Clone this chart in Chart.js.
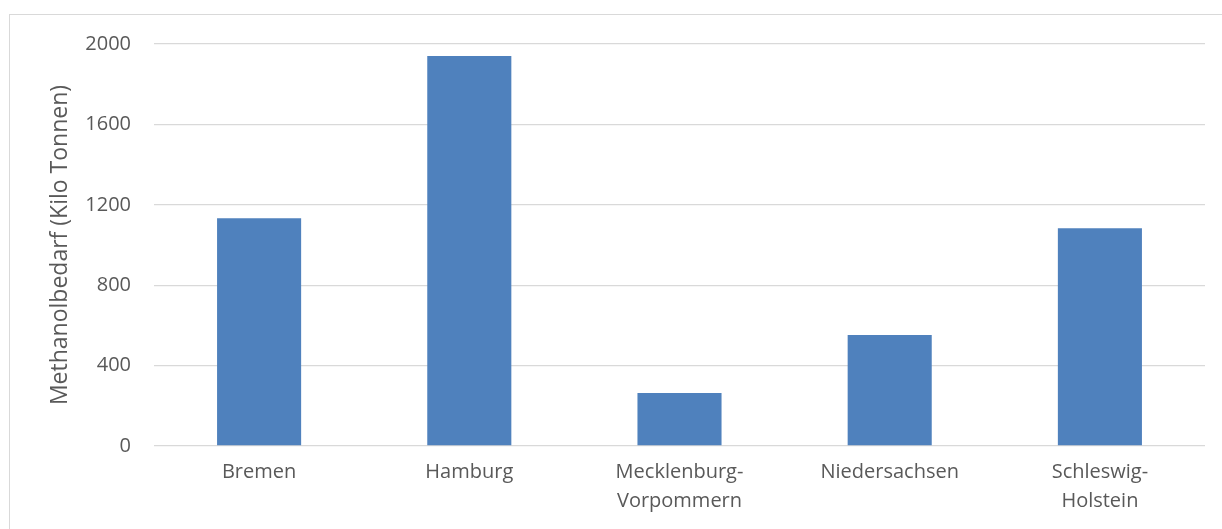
<!DOCTYPE html>
<html>
<head>
<meta charset="utf-8">
<script src="https://cdn.jsdelivr.net/npm/chart.js@4/dist/chart.umd.min.js"></script>
<style>
  html, body { margin: 0; padding: 0; background: #ffffff; overflow: hidden; }
  #frame { position: absolute; left: 9px; top: 14px; width: 1240px; height: 560px; border: 1.5px solid #d9d9d9; box-sizing: border-box; }
  #wrap { position: absolute; left: 0; top: 0; width: 1222px; height: 529px; }
</style>
</head>
<body>
<div id="frame"></div>
<div id="wrap"><canvas id="c" width="1222" height="529"></canvas></div>
<script>
const categories = ["Bremen", "Hamburg", ["Mecklenburg-", "Vorpommern"], "Niedersachsen", ["Schleswig-", "Holstein"]];
const values = [1133, 1940, 264, 552, 1083];
const yTicks = [0, 400, 800, 1200, 1600, 2000];
const yTitle = "Methanolbedarf (Kilo Tonnen)";

const textColor = "#595959";
const fontFamily = "'Open Sans', sans-serif";

new Chart(document.getElementById("c"), {
  type: "bar",
  data: {
    labels: categories,
    datasets: [{
      data: values,
      backgroundColor: "#4f81bd",
      borderWidth: 0,
      barPercentage: 0.4,
      categoryPercentage: 1.0
    }]
  },
  options: {
    responsive: false,
    animation: false,
    devicePixelRatio: 1,
    layout: { padding: { left: 0, right: 17, top: 44, bottom: 9 } },
    plugins: { legend: { display: false }, tooltip: { enabled: false } },
    scales: {
      x: {
        grid: { display: false, drawTicks: false },
        border: { display: false },
        ticks: {
          color: textColor,
          font: { family: fontFamily, size: 20, lineHeight: 1.45 },
          padding: 12,
          maxRotation: 0,
          autoSkip: false
        },
        afterFit(s) { s.height = 74; }
      },
      y: {
        min: 0,
        max: 2000,
        afterBuildTicks(s) { s.ticks = yTicks.map(v => ({ value: v })); },
        grid: { color: "#d9d9d9", lineWidth: 1.3, drawTicks: false },
        border: { display: false },
        ticks: {
          color: textColor,
          font: { family: fontFamily, size: 20 },
          padding: 23,
          callback: (v) => String(v)
        },
        title: {
          display: true,
          text: yTitle,
          color: textColor,
          font: { family: fontFamily, size: 23, lineHeight: 1.2 },
          padding: { top: 47, bottom: 0 }
        },
        afterFit(s) { s.width = 154; }
      }
    }
  }
});
</script>
</body>
</html>
